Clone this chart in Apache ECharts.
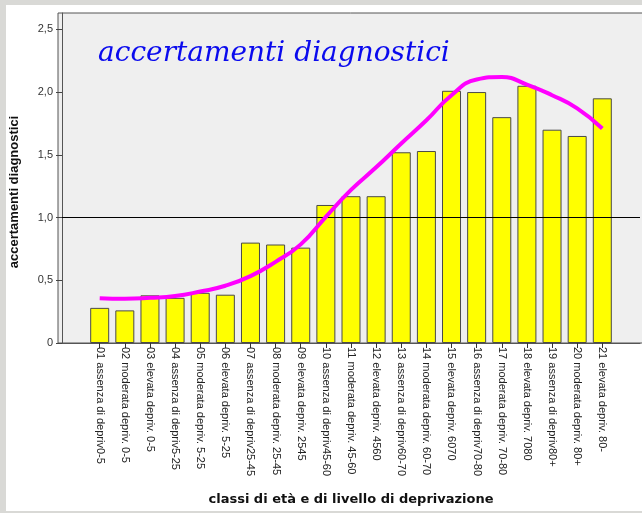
<!DOCTYPE html>
<html>
<head>
<meta charset="utf-8">
<script src="https://cdn.jsdelivr.net/npm/echarts@6/dist/echarts.min.js"></script>
<style>
	html, body { margin: 0; padding: 0; background: #d9d9d6; }
	#panel { position: absolute; left: 6px; top: 5px; width: 636px; height: 506px; background: #ffffff; }
	#chart { position: absolute; left: 0; top: 0; width: 642px; height: 513px; }
</style>
</head>
<body>
<div id="panel"></div>
<div id="chart"></div>
<script>
var categories = [
	'01 assenza di depriv0-5',
	'02 moderata depriv. 0-5',
	'03 elevata depriv. 0-5',
	'04 assenza di depriv5-25',
	'05 moderata depriv. 5-25',
	'06 elevata depriv. 5-25',
	'07 assenza di depriv25-45',
	'08 moderata depriv. 25-45',
	'09 elevata depriv. 2545',
	'10 assenza di depriv45-60',
	'11 moderata depriv. 45-60',
	'12 elevata depriv. 4560',
	'13 assenza di depriv60-70',
	'14 moderata depriv. 60-70',
	'15 elevata depriv. 6070',
	'16 assenza di depriv70-80',
	'17 moderata depriv. 70-80',
	'18 elevata depriv. 7080',
	'19 assenza di depriv80+',
	'20 moderata depriv. 80+',
	'21 elevata depriv. 80-'
];

// bar heights
var accertamenti = [0.28, 0.26, 0.38, 0.36, 0.40, 0.385, 0.80, 0.785, 0.76, 1.10, 1.17,
	1.17, 1.52, 1.53, 2.01, 2.00, 1.80, 2.05, 1.70, 1.65, 1.95];

// magenta trend curve, read at each bar centre
var trend = [0.357, 0.353, 0.36, 0.374, 0.41, 0.456, 0.533, 0.647, 0.786, 1.006, 1.22,
	1.40, 1.59, 1.775, 1.975, 2.10, 2.12, 2.06, 1.975, 1.87, 1.71];

var yTicks = [0, 0.5, 1, 1.5, 2, 2.5];
var refValue = 1;

var chart = echarts.init(document.getElementById('chart'));

var option = {
	backgroundColor: 'transparent',
	animation: false,
	title: {
		text: 'accertamenti diagnostici',
		left: 93,
		top: 35,
		textStyle: {
			fontFamily: 'DejaVu Serif',
			fontStyle: 'italic',
			fontWeight: 'normal',
			fontSize: 28,
			color: '#0a0aee'
		}
	},
	graphic: [{
		type: 'rect',
		z: -10,
		shape: { x: 58, y: 13, width: 620, height: 330 },
		style: { fill: '#efefef', stroke: '#555555', lineWidth: 1 }
	}],
	grid: {
		left: 58,
		right: 2,
		top: 13,
		bottom: 170
	},
	xAxis: {
		type: 'category',
		data: categories,
		min: -1,
		max: 21,
		boundaryGap: true,
		name: 'classi di età e di livello di deprivazione',
		nameLocation: 'middle',
		nameGap: 150,
		nameTextStyle: {
			fontFamily: 'DejaVu Sans',
			fontWeight: 'bold',
			fontSize: 13,
			color: '#111'
		},
		axisLine: { show: true, lineStyle: { color: '#555', width: 1 } },
		axisTick: {
			show: true,
			alignWithLabel: true,
			length: 5,
			lineStyle: { color: '#333' },
			interval: function (index, value) {
				return categories.indexOf(value) >= 0;
			}
		},
		axisLabel: {
			interval: 0,
			rotate: -90,
			margin: 4,
			fontFamily: 'Liberation Sans',
			fontSize: 11,
			color: '#222',
			formatter: function (value) {
				return categories.indexOf(value) >= 0 ? value : '';
			}
		},
		splitLine: { show: false }
	},
	yAxis: {
		type: 'value',
		min: 0,
		max: 2.63,
		interval: 0.5,
		name: 'accertamenti diagnostici',
		nameLocation: 'middle',
		nameGap: 41,
		nameRotate: 90,
		nameTextStyle: {
			fontFamily: 'Liberation Sans',
			fontWeight: 'bold',
			fontSize: 13,
			color: '#111',
			padding: [0, 28, 0, 0]
		},
		axisLine: { show: true, lineStyle: { color: '#555', width: 1 } },
		axisTick: { show: true, length: 6, lineStyle: { color: '#444' } },
		axisLabel: {
			margin: 9,
			showMaxLabel: false,
			fontFamily: 'Liberation Sans',
			fontSize: 11,
			color: '#333',
			formatter: function (v) {
				if (yTicks.indexOf(v) < 0) return '';
				return v === 0 ? '0' : v.toFixed(1).replace('.', ',');
			}
		},
		splitLine: { show: false }
	},
	series: [{
		name: 'accertamenti diagnostici',
		type: 'bar',
		data: accertamenti,
		barWidth: 19,
		itemStyle: {
			color: '#ffff00',
			borderColor: '#4a4a4a',
			borderWidth: 1
		},
		markLine: {
			silent: true,
			symbol: 'none',
			label: { show: false },
			lineStyle: { color: '#000', width: 1, type: 'solid' },
			data: [{ yAxis: refValue }]
		}
	}, {
		name: 'trend',
		type: 'line',
		data: trend,
		smooth: true,
		showSymbol: false,
		z: 5,
		lineStyle: { color: '#ff00ff', width: 4 }
	}]
};

chart.setOption(option);
</script>
</body>
</html>
